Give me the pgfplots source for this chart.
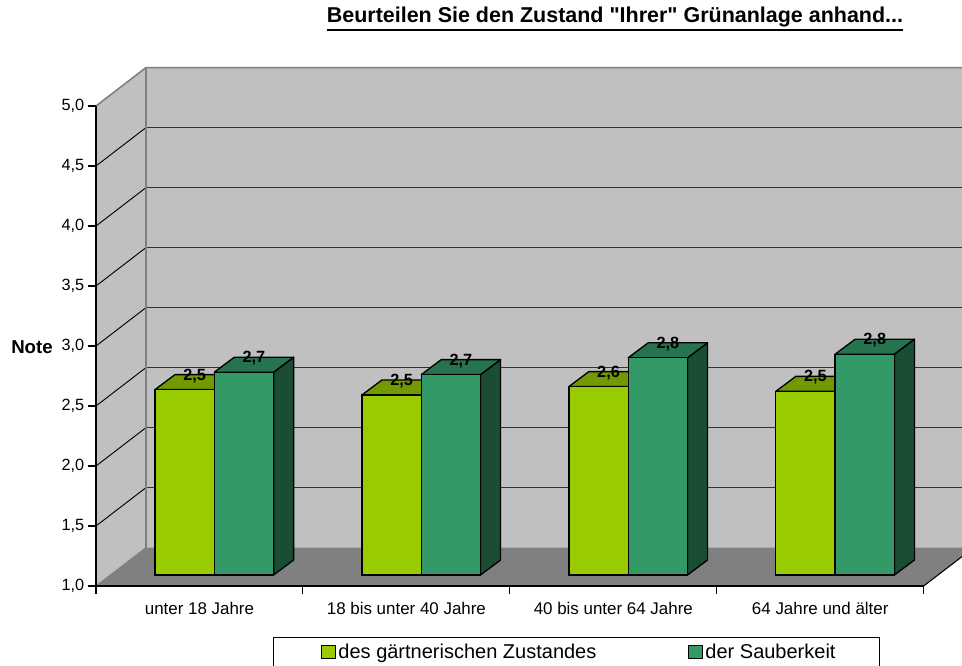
\documentclass[border=0pt]{standalone}
\usepackage{fontspec}
\setmainfont{Liberation Sans}
\newfontfamily\plainfont{Liberation Sans}
\usepackage{pgfplots}
\pgfplotsset{compat=1.18}
\definecolor{lime}{HTML}{99CC00}
\definecolor{limetop}{HTML}{739900}
\definecolor{limeside}{HTML}{4D6600}
\definecolor{sea}{HTML}{339966}
\definecolor{seatop}{HTML}{267350}
\definecolor{seaside}{HTML}{1A4D33}
\definecolor{wall}{HTML}{C0C0C0}
\definecolor{floorg}{HTML}{808080}
\newcommand{\tickfont}{\fontsize{12.2}{14}\selectfont}
\newcommand{\thickul}[1]{\vtop{\hbox{#1}\kern1.2pt\hrule height 1.9pt}}

% top and side face of a bar: left edge, value, colours
\newcommand{\barfaces}[4]{%
  \pgfmathsetmacro\xa{#1}
  \pgfmathsetmacro\xb{#1+0.2866}
  \pgfmathsetmacro\xc{#1+0.2866+0.0967}
  \pgfmathsetmacro\xd{#1+0.0967}
  \pgfmathsetmacro\yt{#2+0.125}
  \pgfmathsetmacro\ybase{1.125}
  \addplot[forget plot,draw=black,line width=1pt,fill=#4,line join=round] coordinates {(\xb,1) (\xc,\ybase) (\xc,\yt) (\xb,#2)} --cycle;
  \addplot[forget plot,draw=black,line width=1pt,fill=#3,line join=round] coordinates {(\xa,#2) (\xb,#2) (\xc,\yt) (\xd,\yt)} --cycle;
}

\begin{document}
\begin{tikzpicture}[x=0.75pt,y=0.75pt]
\useasboundingbox (0,0) rectangle (962,666);
\clip (0,0) rectangle (962,666);

% walls, floor, axes
\begin{axis}[
  at={(72pt,60pt)}, anchor=south west,
  scale only axis, width=620.775pt, height=360pt,
  xmin=0, xmax=4, ymin=1, ymax=5,
  axis x line=bottom, axis y line=left,
  axis line style={-, line width=0.8pt},
  axis on top, clip=false,
  xtick={0,1,2,3,4},
  xticklabels={unter 18 Jahre,18 bis unter 40 Jahre,40 bis unter 64 Jahre,64 Jahre und älter},
  x tick label as interval,
  xtick style={draw=black,line width=0.8pt},
  ytick={1,1.5,2,2.5,3,3.5,4,4.5,5},
  ytick style={draw=black,line width=0.8pt},
  tick align=outside,
  major tick length=6pt,
  x tick label style={font=\fontsize{12.7}{14}\selectfont, yshift=-3pt},
  y tick label style={font=\tickfont, xshift=0.7pt},
  /pgf/number format/assume math mode=true,
  yticklabel style={/pgf/number format/.cd,use comma,fixed,fixed zerofill,precision=1},
  title={\thickul{Beurteilen Sie den Zustand "Ihrer" Grünanlage anhand...}},
  title style={at={(rel axis cs:0.627,1.1575)},anchor=base,font=\plainfont\bfseries\fontsize{16.1}{18}\selectfont},
]
\fill[wall] (axis cs:0.2417,1.32) rectangle (axis cs:4.2417,5.32);
\fill[wall] (axis cs:0,1) -- (axis cs:0.2417,1.32) -- (axis cs:0.2417,5.32) -- (axis cs:0,5) -- cycle;
\fill[floorg] (axis cs:0,1) -- (axis cs:4,1) -- (axis cs:4.2417,1.32) -- (axis cs:0.2417,1.32) -- cycle;
\pgfplotsinvokeforeach{1.5,2,2.5,3,3.5,4,4.5}{
  \draw[black,line width=0.7pt] (axis cs:0,#1) -- (axis cs:0.2417,#1+0.32);
  \draw[black!80,line width=1pt] (axis cs:0.2417,#1+0.32) -- (axis cs:4.2417,#1+0.32);
}
\draw[floorg,line width=1.2pt] (axis cs:0,5) -- (axis cs:0.2417,5.32) -- (axis cs:4.2417,5.32);
\draw[floorg,line width=1.2pt] (axis cs:0.2417,1.32) -- (axis cs:0.2417,5.32);
\draw[floorg,line width=0.7pt] (axis cs:0,1) -- (axis cs:0.2417,1.32);
\draw[black,line width=0.8pt] (axis cs:4,1) -- (axis cs:4.2417,1.32);
\end{axis}

% bars, standing on the raised floor line
\begin{axis}[
  at={(83.14pt,68.25pt)}, anchor=south west,
  scale only axis, width=620.775pt, height=360pt,
  xmin=0, xmax=4, ymin=1, ymax=5,
  hide axis, clip=false,
  /pgf/number format/assume math mode=true,
  /pgf/number format/.cd,use comma,fixed,fixed zerofill,precision=1,/pgfplots/.cd,
  every node near coord/.append style={font=\bfseries\tickfont,anchor=center,yshift=10.5pt,text=black},
  legend columns=2,
  legend cell align=left,
  legend style={at={(rel axis cs:0.1959,-0.129)},anchor=north west,
    draw=black,line width=0.6pt,fill=white,font=\fontsize{15}{16}\selectfont,
    inner xsep=36pt,inner ysep=3pt,
    /tikz/every even column/.append style={column sep=67pt}},
  legend image code/.code={\draw[#1,line width=0.8pt] (0pt,-4.5pt) rectangle (10pt,5pt);},
]
\barfaces{0.2134}{2.545}{limetop}{limeside}
\barfaces{1.2134}{2.50}{limetop}{limeside}
\barfaces{2.2134}{2.57}{limetop}{limeside}
\barfaces{3.2134}{2.53}{limetop}{limeside}
\addplot[ybar,bar width=44.475pt,bar shift=-22.24pt,fill=lime,draw=black,line width=1pt,
    nodes near coords,nodes near coords style={xshift=-14.74pt}]
  coordinates {(0.5,2.545) (1.5,2.50) (2.5,2.57) (3.5,2.53)};
\addlegendentry{des gärtnerischen Zustandes}
\barfaces{0.5}{2.69}{seatop}{seaside}
\barfaces{1.5}{2.67}{seatop}{seaside}
\barfaces{2.5}{2.81}{seatop}{seaside}
\barfaces{3.5}{2.84}{seatop}{seaside}
\addplot[ybar,bar width=44.475pt,bar shift=22.24pt,fill=sea,draw=black,line width=1pt,
    nodes near coords,nodes near coords style={xshift=29.74pt}]
  coordinates {(0.5,2.69) (1.5,2.67) (2.5,2.81) (3.5,2.84)};
\addlegendentry{\makebox[92.5pt][l]{der Sauberkeit}}
\end{axis}

\node[font=\bfseries\fontsize{14}{16}\selectfont] at (32,319) {Note};
\end{tikzpicture}
\end{document}
